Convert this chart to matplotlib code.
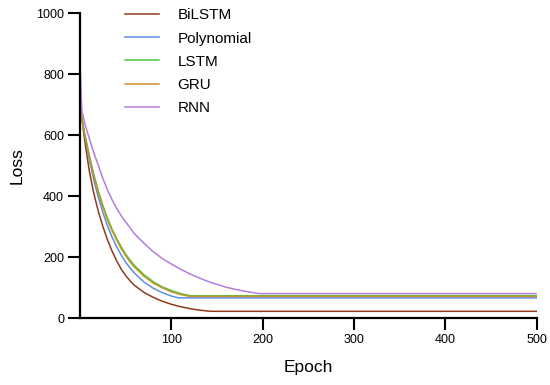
import matplotlib
matplotlib.use("Agg")
import matplotlib.pyplot as plt

plt.rcParams['font.family'] = ['Liberation Sans', 'DejaVu Sans']

# значения
epochs_bilstm = [0, 2, 5, 10, 15, 20, 25, 30, 35, 40, 45, 50, 55, 60, 70, 80, 90,
                 100, 110, 120, 130, 143, 500]
loss_bilstm = [700, 655, 585, 485, 410, 350, 300, 257, 220, 188, 161, 139, 121, 106,
               84, 68, 55, 45, 37, 31, 26, 22, 22]

epochs_poly = [0, 2, 5, 10, 15, 20, 25, 30, 35, 40, 45, 50, 55, 60, 70, 80, 90,
               100, 108, 500]
loss_poly = [750, 653, 600, 522, 454, 396, 346, 303, 266, 234, 207, 183, 163, 146,
             118, 98, 83, 72, 66, 66]

epochs_lstm = [0, 2, 5, 10, 15, 20, 25, 30, 35, 40, 45, 50, 55, 60, 70, 80, 90,
               100, 110, 121, 500]
loss_lstm = [730, 655, 607, 535, 472, 417, 369, 328, 292, 261, 234, 209, 189, 171,
             142, 119, 102, 90, 80, 73, 73]

epochs_gru = [0, 2, 5, 10, 15, 20, 25, 30, 35, 40, 45, 50, 55, 60, 70, 80, 90,
              100, 110, 120, 500]
loss_gru = [710, 651, 604, 531, 467, 412, 364, 322, 287, 256, 228, 204, 183, 166,
            137, 115, 99, 86, 77, 71, 71]

epochs_rnn = [0, 2, 5, 10, 15, 20, 25, 30, 35, 40, 45, 50, 60, 70, 80, 90, 100,
              110, 120, 130, 140, 150, 160, 170, 180, 190, 196, 500]
loss_rnn = [835, 680, 640, 590, 543, 500, 458, 420, 388, 360, 336, 315, 275, 245,
            218, 195, 177, 160, 145, 132, 120, 110, 101, 94, 88, 83, 80, 80]

x_ticks = [100, 200, 300, 400, 500]
y_ticks = [0, 200, 400, 600, 800, 1000]


def create_plot():
    fig = plt.figure(figsize=(5.5, 3.85), dpi=100)
    ax = fig.add_axes([0.1455, 0.174, 0.8305, 0.792])

    lw = 1.1
    ax.plot(epochs_bilstm, loss_bilstm, color='#8E3A1C', linewidth=lw, label='BiLSTM')
    ax.plot(epochs_poly, loss_poly, color='#5F8FE3', linewidth=lw, label='Polynomial')
    ax.plot(epochs_lstm, loss_lstm, color='#4CC83A', linewidth=lw, label='LSTM')
    ax.plot(epochs_gru, loss_gru, color='#C3922A', linewidth=lw, label='GRU')
    ax.plot(epochs_rnn, loss_rnn, color='#B07EE0', linewidth=lw, label='RNN')

    ax.set_xlim(0, 500)
    ax.set_ylim(0, 1000)
    ax.set_xticks(x_ticks)
    ax.set_yticks(y_ticks)
    ax.tick_params(axis='both', direction='out', length=8.5, width=1.5,
                   labelsize=9, colors='black', pad=3)

    for side in ['top', 'right']:
        ax.spines[side].set_visible(False)
    for side in ['left', 'bottom']:
        ax.spines[side].set_linewidth(1.6)

    ax.set_xlabel('Epoch', fontsize=12.5, labelpad=10)
    ax.set_ylabel('Loss', fontsize=12.5, labelpad=8)

    fig.legend(loc='upper left', bbox_to_anchor=(0.214, 0.998), frameon=False,
               fontsize=11, handlelength=2.2, handletextpad=1.2,
               labelspacing=0.6, borderpad=0)

    fig.savefig('out.png', dpi=100)


if __name__ == "__main__":
    create_plot()
